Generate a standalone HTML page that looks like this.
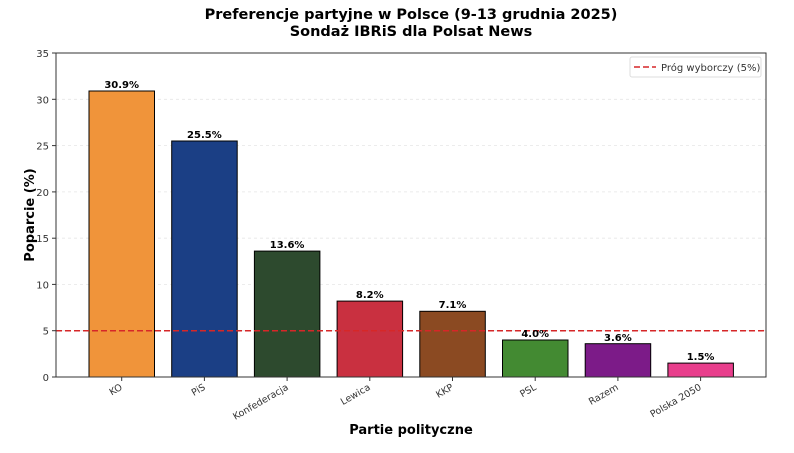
<!DOCTYPE html>
<html><head><meta charset="utf-8"><style>
body{margin:0;background:#fff;}
svg text{font-family:"DejaVu Sans","Liberation Sans",sans-serif;}
</style></head><body>
<svg width="794" height="448" xmlns="http://www.w3.org/2000/svg">
<rect width="794" height="448" fill="#fff"/>
<text x="411" y="19" font-size="14.5" font-weight="bold" text-anchor="middle">Preferencje partyjne w Polsce (9-13 grudnia 2025)</text>
<text x="411" y="36" font-size="14.5" font-weight="bold" text-anchor="middle">Sondaż IBRiS dla Polsat News</text>
<g stroke="#e6e6e6" stroke-width="0.8" stroke-dasharray="3,3">
<line x1="56" x2="766" y1="330.7" y2="330.7"/><line x1="56" x2="766" y1="284.4" y2="284.4"/>
<line x1="56" x2="766" y1="238.2" y2="238.2"/><line x1="56" x2="766" y1="191.9" y2="191.9"/>
<line x1="56" x2="766" y1="145.6" y2="145.6"/><line x1="56" x2="766" y1="99.3" y2="99.3"/>
</g>
<g stroke="#000" stroke-width="1">
<rect x="89" y="91" width="65.5" height="286" fill="#F0943A"/>
<rect x="171.7" y="141" width="65.5" height="236" fill="#1B3F85"/>
<rect x="254.4" y="251.1" width="65.5" height="125.9" fill="#2D4A2E"/>
<rect x="337.1" y="301.1" width="65.5" height="75.9" fill="#C93040"/>
<rect x="419.8" y="311.3" width="65.5" height="65.7" fill="#8B4A22"/>
<rect x="502.5" y="340" width="65.5" height="37" fill="#438A32"/>
<rect x="585.2" y="343.7" width="65.5" height="33.3" fill="#7C1B88"/>
<rect x="667.9" y="363.1" width="65.5" height="13.9" fill="#E83E8C"/>
</g>
<line x1="56" x2="766" y1="330.7" y2="330.7" stroke="#d62728" stroke-width="1.5" stroke-dasharray="6,3"/>
<g font-size="10" font-weight="bold" text-anchor="middle">
<text x="121.7" y="88">30.9%</text><text x="204.4" y="138">25.5%</text><text x="287.1" y="248">13.6%</text>
<text x="369.8" y="298">8.2%</text><text x="452.5" y="308">7.1%</text><text x="535.2" y="337">4.0%</text>
<text x="617.9" y="341">3.6%</text><text x="700.6" y="360">1.5%</text>
</g>
<rect x="56" y="53" width="710" height="324" fill="none" stroke="#333" stroke-width="1"/>
<g stroke="#333" stroke-width="1">
<line x1="52" x2="56" y1="377" y2="377"/><line x1="52" x2="56" y1="330.7" y2="330.7"/><line x1="52" x2="56" y1="284.4" y2="284.4"/>
<line x1="52" x2="56" y1="238.2" y2="238.2"/><line x1="52" x2="56" y1="191.9" y2="191.9"/><line x1="52" x2="56" y1="145.6" y2="145.6"/>
<line x1="52" x2="56" y1="99.3" y2="99.3"/><line x1="52" x2="56" y1="53" y2="53"/>
<line x1="121.7" x2="121.7" y1="377" y2="381"/><line x1="204.4" x2="204.4" y1="377" y2="381"/><line x1="287.1" x2="287.1" y1="377" y2="381"/>
<line x1="369.8" x2="369.8" y1="377" y2="381"/><line x1="452.5" x2="452.5" y1="377" y2="381"/><line x1="535.2" x2="535.2" y1="377" y2="381"/>
<line x1="617.9" x2="617.9" y1="377" y2="381"/><line x1="700.6" x2="700.6" y1="377" y2="381"/>
</g>
<g font-size="10" fill="#333" text-anchor="end">
<text x="49" y="381">0</text><text x="49" y="334.7">5</text><text x="49" y="288.4">10</text><text x="49" y="242.2">15</text>
<text x="49" y="195.9">20</text><text x="49" y="149.6">25</text><text x="49" y="103.3">30</text><text x="49" y="57">35</text>
</g>
<g font-size="9.5" fill="#333" text-anchor="end">
<text transform="translate(123,389) rotate(-30)">KO</text>
<text transform="translate(206,389) rotate(-30)">PiS</text>
<text transform="translate(289,389) rotate(-30)">Konfederacja</text>
<text transform="translate(371,389) rotate(-30)">Lewica</text>
<text transform="translate(454,389) rotate(-30)">KKP</text>
<text transform="translate(537,389) rotate(-30)">PSL</text>
<text transform="translate(619,389) rotate(-30)">Razem</text>
<text transform="translate(702,389) rotate(-30)">Polska 2050</text>
</g>
<text x="411" y="434" font-size="13" font-weight="bold" text-anchor="middle">Partie polityczne</text>
<text transform="translate(34,215) rotate(-90)" font-size="13" font-weight="bold" text-anchor="middle">Poparcie (%)</text>
<rect x="630" y="57" width="131" height="20" rx="2" fill="#fff" stroke="#ddd"/>
<line x1="634" x2="656" y1="67" y2="67" stroke="#d62728" stroke-width="1.5" stroke-dasharray="6,3"/>
<text x="661" y="71" font-size="10" fill="#333">Próg wyborczy (5%)</text>
</svg>
</body></html>
